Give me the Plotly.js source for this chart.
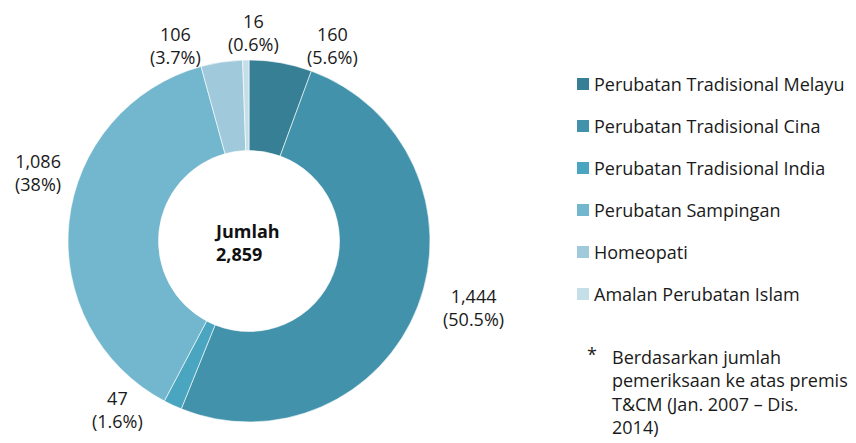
<!DOCTYPE html>
<html>
<head>
<meta charset="utf-8">
<script src="https://cdn.plot.ly/plotly-3.0.1.min.js"></script>
<style>html,body{margin:0;padding:0;background:#fff}#chart{width:856px;height:443px}</style>
</head>
<body>
<div id="chart"></div>
<script>
const categories = ["Perubatan Tradisional Melayu","Perubatan Tradisional Cina","Perubatan Tradisional India","Perubatan Sampingan","Homeopati","Amalan Perubatan Islam"];
const values = [160, 1444, 47, 1086, 106, 16];
const valueLabels = ["160","1,444","47","1,086","106","16"];
const pctLabels = ["5.6%","50.5%","1.6%","38%","3.7%","0.6%"];
const colors = ["#377F94","#4192AA","#4AA6C0","#72B7CD","#A0CADB","#C4DFE8"];
const totalLabel = "2,859";
const footnote = "Berdasarkan jumlah<br>pemeriksaan ke atas premis<br>T&CM (Jan. 2007 \u2013 Dis.<br>2014)";

const W = 856, H = 443;
const FONT = "'Open Sans', sans-serif";
const FS = 18;
const px = x => x / W;
const py = y => 1 - y / H;

// label anchor positions (pixels) for each slice
const labelPos = [[332,45],[473,307],[118,409],[38,172],[175,45],[253,32]];

const annotations = [];
categories.forEach((c, i) => {
  annotations.push({
    xref: 'paper', yref: 'paper', x: px(labelPos[i][0]), y: py(labelPos[i][1]),
    xanchor: 'center', yanchor: 'middle', showarrow: false, align: 'center',
    text: valueLabels[i] + '<br>(' + pctLabels[i] + ')',
    font: {family: FONT, size: FS, color: '#1a1a1a'}
  });
});
annotations.push({
  xref: 'paper', yref: 'paper', x: px(247), y: py(242), xanchor: 'center', yanchor: 'middle',
  showarrow: false, align: 'left', text: '<b>Jumlah<br>' + totalLabel + '</b>',
  font: {family: FONT, size: FS, color: '#111'}
});
// manual legend
const shapes = [];
categories.forEach((c, i) => {
  const yc = 84 + i * 42;
  shapes.push({type: 'rect', xref: 'paper', yref: 'paper',
    x0: px(577), x1: px(589), y0: py(yc - 6), y1: py(yc + 6),
    fillcolor: colors[i], line: {width: 0}});
  annotations.push({xref: 'paper', yref: 'paper', x: px(592), y: py(yc), xanchor: 'left', yanchor: 'middle',
    showarrow: false, text: c, font: {family: FONT, size: FS, color: '#1a1a1a'}});
});
annotations.push({xref: 'paper', yref: 'paper', x: px(585), y: py(354), xanchor: 'left', yanchor: 'middle',
  showarrow: false, text: '*', font: {family: FONT, size: FS, color: '#1a1a1a'}});
annotations.push({xref: 'paper', yref: 'paper', x: px(610), y: py(343), xanchor: 'left', yanchor: 'top',
  showarrow: false, align: 'left', text: footnote, font: {family: FONT, size: FS, color: '#1a1a1a'}});

const data = [{
  type: 'pie', labels: categories, values: values, hole: 0.5,
  sort: false, direction: 'clockwise', rotation: 0,
  marker: {colors: colors, line: {color: '#ffffff', width: 0.6}},
  textinfo: 'none', hoverinfo: 'label+value+percent', showlegend: false,
  domain: {x: [px(68), px(430)], y: [py(422), py(60)]}
}];

const layout = {
  width: W, height: H, margin: {l: 0, r: 0, t: 0, b: 0},
  paper_bgcolor: '#fff', showlegend: false,
  annotations: annotations, shapes: shapes,
  font: {family: FONT}
};
Plotly.newPlot('chart', data, layout, {displayModeBar: false, staticPlot: true});
</script>
</body>
</html>
